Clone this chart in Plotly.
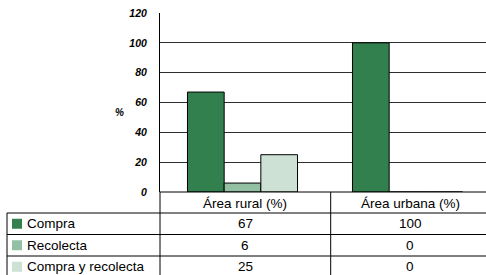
import plotly.graph_objects as go

# ---- data ----
categories = ["Área rural (%)", "Área urbana (%)"]
series_names = ["Compra", "Recolecta", "Compra y recolecta"]
compra = [67, 100]
recolecta = [6, 0]
compra_recolecta = [25, 0]
y_ticks = [0, 20, 40, 60, 80, 100, 120]
y_label = "%"

series_values = [compra, recolecta, compra_recolecta]
colors = ["#33804f", "#93c0a2", "#cde2d5"]

# ---- layout helpers (pixel -> paper) ----
W, H = 486, 275
L, R, T, B = 160, 0, 13, 83
pw = W - L - R
ph = H - T - B


def px(x):
    return (x - L) / pw


def py(y):
    return (H - B - y) / ph


fig = go.Figure()
for name, vals, col in zip(series_names, series_values, colors):
    fig.add_trace(go.Bar(
        x=categories, y=vals, name=name,
        marker=dict(color=col, line=dict(color="black", width=1)),
        showlegend=False,
    ))

shapes = []
annotations = []


def hline(y, x0, x1):
    shapes.append(dict(type="line", xref="paper", yref="paper",
                       x0=px(x0), x1=px(x1), y0=py(y), y1=py(y),
                       line=dict(color="black", width=1)))


def vline(x, y0, y1):
    shapes.append(dict(type="line", xref="paper", yref="paper",
                       x0=px(x), x1=px(x), y0=py(y0), y1=py(y1),
                       line=dict(color="black", width=1)))


row_tops = [213, 234.5, 256]
row_h = 21.5
col_div = 330.7
col_centers = [245.3, 410]

hline(192, 160, 486)
for yt in row_tops:
    hline(yt, 7, 486)
vline(7, 213, 280)
vline(160, 192, 280)
vline(col_div, 192, 280)

tfont = dict(family="Arial", size=13.5, color="black")
# header
for cat, cx in zip(categories, col_centers):
    annotations.append(dict(text=cat, xref="paper", yref="paper",
                            x=px(cx), y=py(203), xanchor="center", yanchor="middle",
                            showarrow=False, font=tfont))
for i, (name, vals, col) in enumerate(zip(series_names, series_values, colors)):
    cy = row_tops[i] + row_h / 2
    shapes.append(dict(type="rect", xref="paper", yref="paper",
                       x0=px(12), x1=px(22), y0=py(cy - 5), y1=py(cy + 5),
                       fillcolor=col, line=dict(width=0)))
    annotations.append(dict(text=name, xref="paper", yref="paper",
                            x=px(25), y=py(cy), xanchor="left", yanchor="middle",
                            showarrow=False, font=tfont))
    for v, cx in zip(vals, col_centers):
        annotations.append(dict(text=str(v), xref="paper", yref="paper",
                                x=px(cx), y=py(cy), xanchor="center", yanchor="middle",
                                showarrow=False, font=tfont))

annotations.append(dict(text=y_label, xref="paper", yref="paper",
                        x=px(119.5), y=py(112), xanchor="center", yanchor="middle",
                        showarrow=False,
                        font=dict(family="Arial", size=10, color="black",
                                  weight="bold", style="italic")))

fig.update_layout(
    width=W, height=H,
    margin=dict(l=L, r=R, t=T, b=B, pad=0),
    paper_bgcolor="white", plot_bgcolor="white",
    barmode="group", bargap=0.333, bargroupgap=0,
    showlegend=False,
    shapes=shapes, annotations=annotations,
    xaxis=dict(range=[-0.5, -0.5 + pw / 165.0], showticklabels=False,
               showgrid=False, zeroline=False, showline=False, ticks=""),
    yaxis=dict(range=[0, 120], tickvals=y_ticks, showgrid=True,
               gridcolor="#2e2e2e", gridwidth=1, zeroline=False,
               showline=True, linecolor="black", linewidth=1, ticks="",
               ticklabelstandoff=10,
               tickfont=dict(family="Arial", size=10.5, color="black",
                             weight="bold", style="italic")),
)

fig.write_html("out.html", config={"displayModeBar": False},
               post_script="document.body.style.margin='0';document.body.style.overflow='hidden';")
